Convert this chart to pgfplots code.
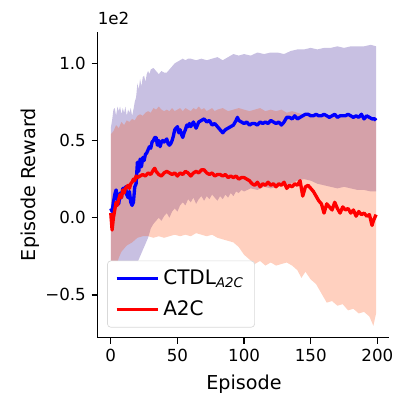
\documentclass[border=0pt]{standalone}
\usepackage{fontspec}
\setmainfont{DejaVu Sans}
\usepackage{pgfplots}
\pgfplotsset{compat=1.18}
\definecolor{lav}{RGB}{200,192,226}
\definecolor{ored}{RGB}{255,69,0}
\begin{document}
\begin{tikzpicture}
\useasboundingbox (-58.5pt,-36.8pt) rectangle (178.9pt,202.6pt);
\begin{axis}[
  anchor=south west, at={(0pt,0pt)},
  scale only axis, width=175.1pt, height=183.6pt,
  xmin=-9.95, xmax=208.95, ymin=-0.777, ymax=1.205,
  axis x line*=bottom, axis y line*=left,
  axis line style={-, line width=0.8pt},
  tick align=outside, major tick length=3.5pt,
  every tick/.style={black, line width=0.8pt},
  xtick={0,50,100,150,200}, xticklabels={0,50,100,150,200},
  ytick={-0.5,0,0.5,1.0}, yticklabels={−0.5,0.0,0.5,1.0},
  ticklabel style={font=\fontsize{10}{12}\selectfont},
  xlabel={Episode}, ylabel={Episode Reward},
  label style={font=\fontsize{11.5}{14}\selectfont},
  xlabel style={at={(axis description cs:0.502,-0.1536)}, anchor=center},
  ylabel style={at={(axis description cs:-0.229,0.5)}, anchor=center, rotate=0},
  legend style={at={(0.033,0.033)}, anchor=south west, draw=black!15, rounded corners=2pt,
    fill=white, font=\fontsize{12}{14}\selectfont, inner xsep=4.5pt, inner ysep=3.5pt, row sep=4pt},
  legend cell align=left,
  legend image code/.code={\draw[#1] (0pt,0pt) -- (25pt,0pt);},
  clip=false,
]
\addplot[fill=lav, draw=none, forget plot] coordinates {
(0,0.58)(1,0.63)(2,0.70)(3,0.71)(4,0.66)(5,0.72)(6,0.69)(7,0.72)(8,0.67)(9,0.71)(10,0.68)(11,0.72)(12,0.66)(13,0.70)(14,0.68)(15,0.71)(16,0.66)(17,0.70)(18,0.75)(19,0.78)(20,0.87)(21,0.83)(22,0.90)(23,0.85)(24,0.91)(25,0.92)(26,0.88)(27,0.93)(28,0.95)(29,0.93)(30,0.96)(32,0.97)(34,0.95)(36,0.93)(38,0.95)(40,0.94)(42,0.94)(44,0.96)(46,0.98)(48,1.00)(50,1.01)(52,1.02)(54,1.03)(56,1.02)(58,1.03)(60,1.03)(64,1.02)(68,1.03)(72,1.02)(76,1.03)(80,1.04)(84,1.02)(88,1.04)(92,1.06)(96,1.05)(100,1.06)(105,1.05)(110,1.07)(115,1.06)(120,1.07)(125,1.07)(130,1.06)(135,1.08)(140,1.09)(145,1.09)(150,1.10)(155,1.09)(160,1.10)(165,1.10)(170,1.11)(175,1.10)(180,1.11)(185,1.11)(190,1.11)(195,1.12)(199,1.11)
(199,0.17)(195,0.17)(190,0.18)(185,0.18)(180,0.19)(175,0.20)(170,0.19)(165,0.20)(160,0.21)(155,0.22)(150,0.24)(145,0.25)(140,0.24)(135,0.22)(130,0.21)(125,0.20)(120,0.19)(115,0.20)(110,0.18)(105,0.19)(100,0.17)(98,0.18)(96,0.16)(94,0.17)(92,0.14)(90,0.16)(88,0.13)(86,0.15)(84,0.12)(82,0.14)(80,0.11)(78,0.13)(76,0.15)(74,0.12)(72,0.14)(70,0.11)(68,0.14)(66,0.12)(64,0.09)(62,0.13)(60,0.10)(58,0.12)(56,0.08)(54,0.10)(52,0.08)(50,0.04)(48,0.06)(46,0.04)(44,0.00)(42,0.03)(40,0.01)(38,-0.02)(36,0.00)(34,-0.02)(32,-0.04)(30,-0.07)(28,-0.13)(26,-0.17)(24,-0.21)(22,-0.25)(20,-0.29)(18,-0.33)(15,-0.37)(12,-0.40)(9,-0.43)(6,-0.46)(3,-0.50)(0,-0.52)
};
\addplot[fill=ored, fill opacity=0.25, draw=none, forget plot] coordinates {
(0,0.54)(2,0.56)(4,0.60)(6,0.58)(8,0.62)(10,0.60)(12,0.63)(14,0.62)(16,0.64)(18,0.63)(20,0.66)(22,0.67)(24,0.66)(26,0.68)(28,0.69)(30,0.68)(32,0.71)(34,0.70)(36,0.72)(38,0.70)(40,0.69)(42,0.70)(44,0.69)(46,0.71)(48,0.69)(50,0.70)(52,0.71)(54,0.69)(56,0.71)(58,0.70)(60,0.69)(62,0.71)(64,0.70)(66,0.72)(68,0.70)(70,0.71)(72,0.69)(74,0.70)(76,0.71)(78,0.69)(80,0.70)(84,0.71)(88,0.69)(92,0.70)(96,0.71)(100,0.70)(104,0.69)(108,0.70)(112,0.71)(116,0.69)(120,0.70)(124,0.69)(128,0.70)(132,0.68)(136,0.69)(140,0.68)(144,0.67)(148,0.68)(152,0.67)(156,0.66)(160,0.67)(165,0.66)(170,0.66)(175,0.65)(180,0.66)(185,0.65)(190,0.66)(195,0.65)(199,0.65)
(199,-0.62)(197,-0.70)(194,-0.64)(190,-0.61)(186,-0.62)(182,-0.59)(178,-0.60)(174,-0.56)(170,-0.57)(166,-0.54)(162,-0.55)(158,-0.49)(154,-0.43)(150,-0.40)(146,-0.35)(143,-0.39)(140,-0.34)(136,-0.31)(132,-0.29)(128,-0.30)(124,-0.31)(120,-0.29)(116,-0.31)(112,-0.28)(108,-0.30)(104,-0.27)(100,-0.24)(96,-0.19)(92,-0.16)(88,-0.15)(84,-0.14)(80,-0.13)(76,-0.11)(72,-0.12)(68,-0.11)(64,-0.10)(60,-0.12)(56,-0.11)(52,-0.12)(48,-0.11)(44,-0.12)(40,-0.13)(36,-0.12)(32,-0.13)(28,-0.12)(24,-0.12)(20,-0.13)(16,-0.16)(12,-0.18)(8,-0.22)(6,-0.26)(3,-0.35)(0,-0.45)
};
\addplot[blue, line width=2pt, line join=round] coordinates {
(0,0.06)(1,0.04)(2,0.10)(3,0.15)(4,0.18)(5,0.12)(6,0.09)(7,0.16)(8,0.13)(9,0.19)(10,0.17)(11,0.20)(12,0.15)(13,0.13)(14,0.17)(15,0.10)(16,0.08)(17,0.10)(18,0.20)(19,0.22)(20,0.36)(21,0.30)(22,0.38)(23,0.33)(24,0.39)(25,0.37)(26,0.41)(27,0.42)(28,0.44)(29,0.46)(30,0.45)(31,0.49)(32,0.50)(33,0.52)(34,0.52)(35,0.47)(36,0.50)(37,0.46)(38,0.49)(39,0.50)(40,0.49)(41,0.50)(42,0.51)(43,0.48)(44,0.47)(45,0.48)(46,0.50)(47,0.53)(48,0.57)(49,0.58)(50,0.59)(51,0.55)(52,0.57)(53,0.54)(54,0.52)(55,0.55)(56,0.57)(57,0.60)(58,0.59)(59,0.61)(60,0.59)(62,0.62)(64,0.58)(66,0.62)(68,0.63)(70,0.64)(72,0.62)(74,0.63)(76,0.60)(78,0.61)(80,0.59)(82,0.57)(84,0.55)(86,0.57)(88,0.58)(90,0.59)(92,0.60)(94,0.63)(95,0.65)(96,0.63)(98,0.62)(100,0.61)(102,0.62)(104,0.60)(106,0.61)(108,0.61)(110,0.60)(112,0.62)(114,0.61)(116,0.62)(118,0.61)(120,0.63)(122,0.62)(124,0.61)(126,0.62)(128,0.60)(130,0.62)(132,0.65)(134,0.65)(136,0.64)(138,0.66)(140,0.64)(142,0.65)(144,0.66)(146,0.67)(148,0.67)(150,0.66)(152,0.66)(154,0.67)(156,0.66)(158,0.66)(160,0.67)(162,0.66)(164,0.65)(166,0.66)(168,0.67)(170,0.65)(172,0.66)(174,0.66)(176,0.66)(178,0.67)(180,0.66)(182,0.65)(184,0.66)(186,0.65)(188,0.67)(190,0.64)(192,0.66)(194,0.65)(196,0.64)(198,0.64)(199,0.63)
};
\addlegendentry{CTDL\textsubscript{\textit{A2C}}}
\addplot[red, line width=2pt, line join=round] coordinates {
(0,0.03)(1,-0.08)(2,0.00)(3,0.05)(4,0.10)(5,0.08)(6,0.12)(7,0.15)(8,0.13)(9,0.18)(10,0.16)(11,0.19)(12,0.20)(13,0.21)(14,0.19)(15,0.22)(16,0.23)(17,0.25)(18,0.24)(19,0.27)(20,0.26)(22,0.27)(24,0.28)(26,0.27)(28,0.29)(30,0.28)(32,0.31)(33,0.32)(34,0.30)(36,0.28)(38,0.27)(40,0.29)(42,0.30)(44,0.29)(46,0.28)(48,0.29)(50,0.27)(52,0.29)(54,0.28)(56,0.30)(58,0.29)(60,0.27)(62,0.29)(64,0.30)(66,0.29)(68,0.31)(70,0.31)(72,0.29)(74,0.28)(76,0.29)(78,0.27)(80,0.28)(82,0.28)(84,0.27)(86,0.28)(88,0.26)(90,0.27)(92,0.26)(94,0.27)(96,0.25)(98,0.26)(100,0.26)(102,0.25)(104,0.24)(106,0.22)(108,0.21)(110,0.23)(112,0.20)(114,0.22)(116,0.21)(118,0.23)(120,0.21)(122,0.22)(124,0.20)(126,0.22)(128,0.21)(130,0.23)(132,0.19)(134,0.21)(136,0.20)(138,0.22)(140,0.21)(142,0.24)(144,0.14)(146,0.20)(148,0.21)(150,0.19)(152,0.17)(154,0.14)(156,0.11)(158,0.09)(160,0.03)(162,0.09)(164,0.07)(166,0.05)(168,0.10)(170,0.06)(172,0.03)(174,0.07)(176,0.05)(178,0.06)(180,0.03)(182,0.05)(184,0.01)(186,0.04)(188,0.02)(190,0.03)(192,0.01)(194,0.02)(196,-0.05)(197,-0.02)(199,0.02)
};
\addlegendentry{A2C}
\node[anchor=base west, inner sep=0pt, font=\fontsize{10}{12}\selectfont] at ([yshift=4.2pt]axis description cs:0,1) {1e2};
\end{axis}
\end{tikzpicture}
\end{document}
